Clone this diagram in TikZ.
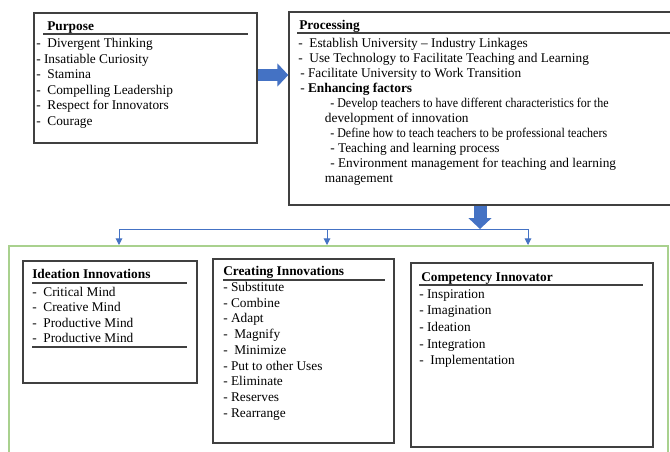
\documentclass[tikz,border=0pt]{standalone}
\usepackage{fontspec}
\setmainfont{Liberation Serif}
\usetikzlibrary{arrows.meta,fit}
\definecolor{wordblue}{RGB}{68,114,196}
\definecolor{wordgreen}{RGB}{169,209,142}
\definecolor{boxgray}{RGB}{64,64,64}
\tikzset{
  box/.style={draw=boxgray, line width=1pt, inner sep=0pt},
  boxtitle/.style={anchor=base west, inner sep=0pt, font=\fontsize{10}{12}\selectfont\bfseries},
  itemlist/.style={anchor=north west, inner sep=0pt, align=left, font=\fontsize{10}{#1}\selectfont},
  rule/.style={boxgray, line width=0.9pt},
  bigarrow/.style={wordblue, -{Triangle[length=8.25pt, width=17pt]}},
  smallarrow/.style={wordblue, line width=0.75pt, -{Triangle[length=5pt, width=5pt]}}
}
\newcommand{\narrow}[1]{\scalebox{0.9}[1]{#1}}
\begin{document}
\begin{tikzpicture}[x=0.75pt, y=-0.75pt]
   \useasboundingbox (0,0) rectangle (670,451);
   % top row
   \node[box, fit={(34,13) (257,143)}] (purpose) {};
   \node[boxtitle] (purposeT) at (47,30) {Purpose};
   \draw[rule] (43,34) -- (248,34);
   \node[itemlist=11.7pt] (purposeL) at (36,38) {-\ \ Divergent Thinking\\- Insatiable Curiosity\\-\ \ Stamina\\-\ \ Compelling Leadership\\-\ \ Respect for Innovators\\-\ \ Courage};

   \node[box, fit={(289,12) (676,205)}] (processing) {};
   \node[boxtitle] (processingT) at (299,29) {Processing};
   \draw[rule] (297,33) -- (676,33);
   \node[itemlist=11.25pt] (processingL) at (298,38) {-\ \ Establish University -- Industry Linkages\\
      -\ \ Use Technology to Facilitate Teaching and Learning\\
      \hspace*{1.5pt}- Facilitate University to Work Transition\\
      \hspace*{1.5pt}- \textbf{Enhancing factors}\\
      \hspace*{24pt}\narrow{- Develop teachers to have different characteristics for the}\\
      \hspace*{20pt}development of innovation\\
      \hspace*{24pt}\narrow{- Define how to teach teachers to be professional teachers}\\
      \hspace*{24pt}- Teaching and learning process\\
      \hspace*{24pt}- Environment management for teaching and learning\\
      \hspace*{20pt}management};

   \draw[bigarrow, line width=9pt] (purpose.east |- 0,75) -- (processing.west |- 0,75);
   \coordinate (split) at (480,229);
   \draw[bigarrow, line width=9.75pt] (processing.south -| split) -- (split);

   % lower frame
   \node[draw=wordgreen, line width=1.5pt, inner sep=0pt, fit={(9,246) (668,460)}] (frame) {};
   \draw[wordblue, line width=0.75pt] (split -| 119,0) -- (split -| 528,0);
   \draw[smallarrow] (split -| 119,0) -- (frame.north -| 119,0);
   \draw[smallarrow] (split -| 327,0) -- (frame.north -| 327,0);
   \draw[smallarrow] (split -| 528,0) -- (frame.north -| 528,0);

   \node[box, fit={(23,261) (197,383)}] (ideation) {};
   \node[boxtitle] (ideationT) at (32,278) {Ideation Innovations};
   \draw[rule] (32,283) -- (187,283);
   \node[itemlist=11.5pt] (ideationL) at (32,287) {-\ \ Critical Mind\\-\ \ Creative Mind\\-\ \ Productive Mind\\-\ \ Productive Mind};
   \draw[rule] (32,347) -- (187,347);

   \node[box, fit={(213,259) (394,443)}] (creating) {};
   \node[boxtitle] (creatingT) at (223,275) {Creating Innovations};
   \draw[rule] (223,280) -- (385,280);
   \node[itemlist=11.8pt] (creatingL) at (223,282) {- Substitute\\- Combine\\- Adapt\\-\ \ Magnify\\-\ \ Minimize\\- Put to other Uses\\- Eliminate\\- Reserves\\- Rearrange};

   \node[box, fit={(411,263) (653,447)}] (competency) {};
   \node[boxtitle] (competencyT) at (421,281) {Competency Innovator};
   \draw[rule] (419,285) -- (643,285);
   \node[itemlist=12.5pt] (competencyL) at (419,289) {- Inspiration\\- Imagination\\- Ideation\\- Integration\\-\ \ Implementation};
\end{tikzpicture}
\end{document}
